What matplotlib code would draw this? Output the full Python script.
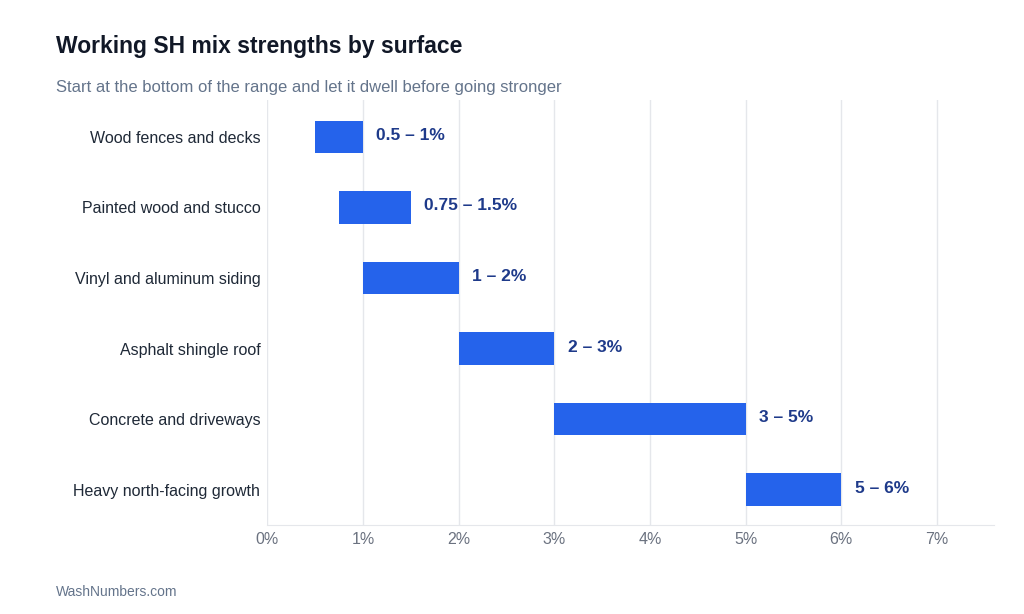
import matplotlib
matplotlib.use("Agg")
import matplotlib.pyplot as plt

categories = ["Wood fences and decks", "Painted wood and stucco", "Vinyl and aluminum siding",
              "Asphalt shingle roof", "Concrete and driveways", "Heavy north-facing growth"]
low = [0.5, 0.75, 1, 2, 3, 5]
high = [1, 1.5, 2, 3, 5, 6]
labels = ["0.5 – 1%", "0.75 – 1.5%", "1 – 2%", "2 – 3%", "3 – 5%", "5 – 6%"]
xticks = [0, 1, 2, 3, 4, 5, 6, 7]

plt.rcParams['font.family'] = ['Liberation Sans', 'DejaVu Sans']
fig = plt.figure(figsize=(10.24, 6.14), dpi=100)
ax = fig.add_axes([0.261, 0.145, 0.71, 0.692])
y = list(range(len(categories)))
ax.barh(y, [h - l for l, h in zip(low, high)], left=low, height=0.46, color="#2563EB", zorder=3)
for yi, h, t in zip(y, high, labels):
    ax.text(h + 0.14, yi - 0.02, t, va="center", ha="left", fontsize=12.5, fontweight="bold", color="#1e3a8a")
ax.set_ylim(5.5, -0.52)
ax.set_xlim(0, 7.6)
ax.set_yticks(y)
ax.set_yticklabels(categories, fontsize=11.5, color="#1f2937")
ax.set_xticks(xticks)
ax.set_xticklabels([f"{v}%" for v in xticks], fontsize=11.5, color="#6b7280")
ax.tick_params(length=0, pad=5)
ax.grid(axis="x", color="#e5e7eb", linewidth=1, zorder=0)
for s in ["top", "right", "left"]:
    ax.spines[s].set_visible(False)
ax.spines["bottom"].set_color("#e5e7eb")
fig.text(0.055, 0.925, "Working SH mix strengths by surface", fontsize=16.5, fontweight="bold", color="#111827", va="center")
fig.text(0.055, 0.858, "Start at the bottom of the range and let it dwell before going stronger", fontsize=12, color="#64748b", va="center")
fig.text(0.055, 0.036, "WashNumbers.com", fontsize=10, color="#64748b", va="center")
fig.savefig("out.png", dpi=100)
